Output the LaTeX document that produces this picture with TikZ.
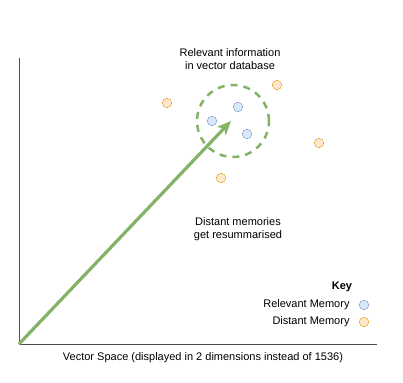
\documentclass[tikz,border=0pt]{standalone}
\usepackage{fontspec}
\setmainfont{Liberation Sans}
\usepackage{tikz}
\usetikzlibrary{arrows.meta,positioning}
\definecolor{relfill}{HTML}{DAE8FC}
\definecolor{relline}{HTML}{6C8EBF}
\definecolor{disfill}{HTML}{FFE6CC}
\definecolor{disline}{HTML}{D79B00}
\definecolor{vecgreen}{HTML}{82B366}
\definecolor{axisgray}{HTML}{4D4D4D}

\begin{document}
\begin{tikzpicture}[
x=1pt,y=-1pt,
every node/.style={font=\fontsize{11}{13}\selectfont},
relevant/.style={circle,draw=relline,fill=relfill,minimum size=9.5pt,inner sep=0pt},
distant/.style={circle,draw=disline,fill=disfill,minimum size=9.5pt,inner sep=0pt},
vec/.style={draw=vecgreen,line width=3.2pt,-{Stealth[length=14pt,width=12pt,inset=4pt]}}
]
\useasboundingbox (0,0) rectangle (403,382);
% axes
\coordinate (o) at (19,344);
\coordinate (top) at (19,58);
\coordinate (right) at (377,344);
\draw[axisgray,line width=1pt] (top) -- (o) -- (right);
\node (space) at (203,358) {Vector Space (displayed in 2 dimensions instead of 1536)};
% relevant region
\node [circle,draw=vecgreen,line width=2.5pt,dash pattern=on 7pt off 6pt,minimum size=72pt] (zone) at (233,121) {};
\node [align=center] (zonetxt) at (230,59) {Relevant information\\in vector database};
\node [relevant] (r1) at (212,121) {};
\node [relevant] (r2) at (238,107) {};
\node [relevant] (r3) at (247,134) {};
\node [distant] (d1) at (167,103) {};
\node [distant] (d2) at (277,85) {};
\node [distant] (d3) at (319,143) {};
\node [distant] (d4) at (221,178) {};
\node [align=center] (far) at (238,229) {Distant memories\\get resummarised};
\coordinate (tip) at (231,121);
\draw[vec] (o) -- (tip);
% key
\node [font=\fontsize{11}{13}\selectfont\bfseries] (key) at (342,287) {Key};
\node [relevant] (krel) at (364,305) {};
\node [distant] (kdis) at (364,322) {};
\node [left=6pt of krel] {Relevant Memory};
\node [left=6pt of kdis] {Distant Memory};
\end{tikzpicture}
\end{document}
